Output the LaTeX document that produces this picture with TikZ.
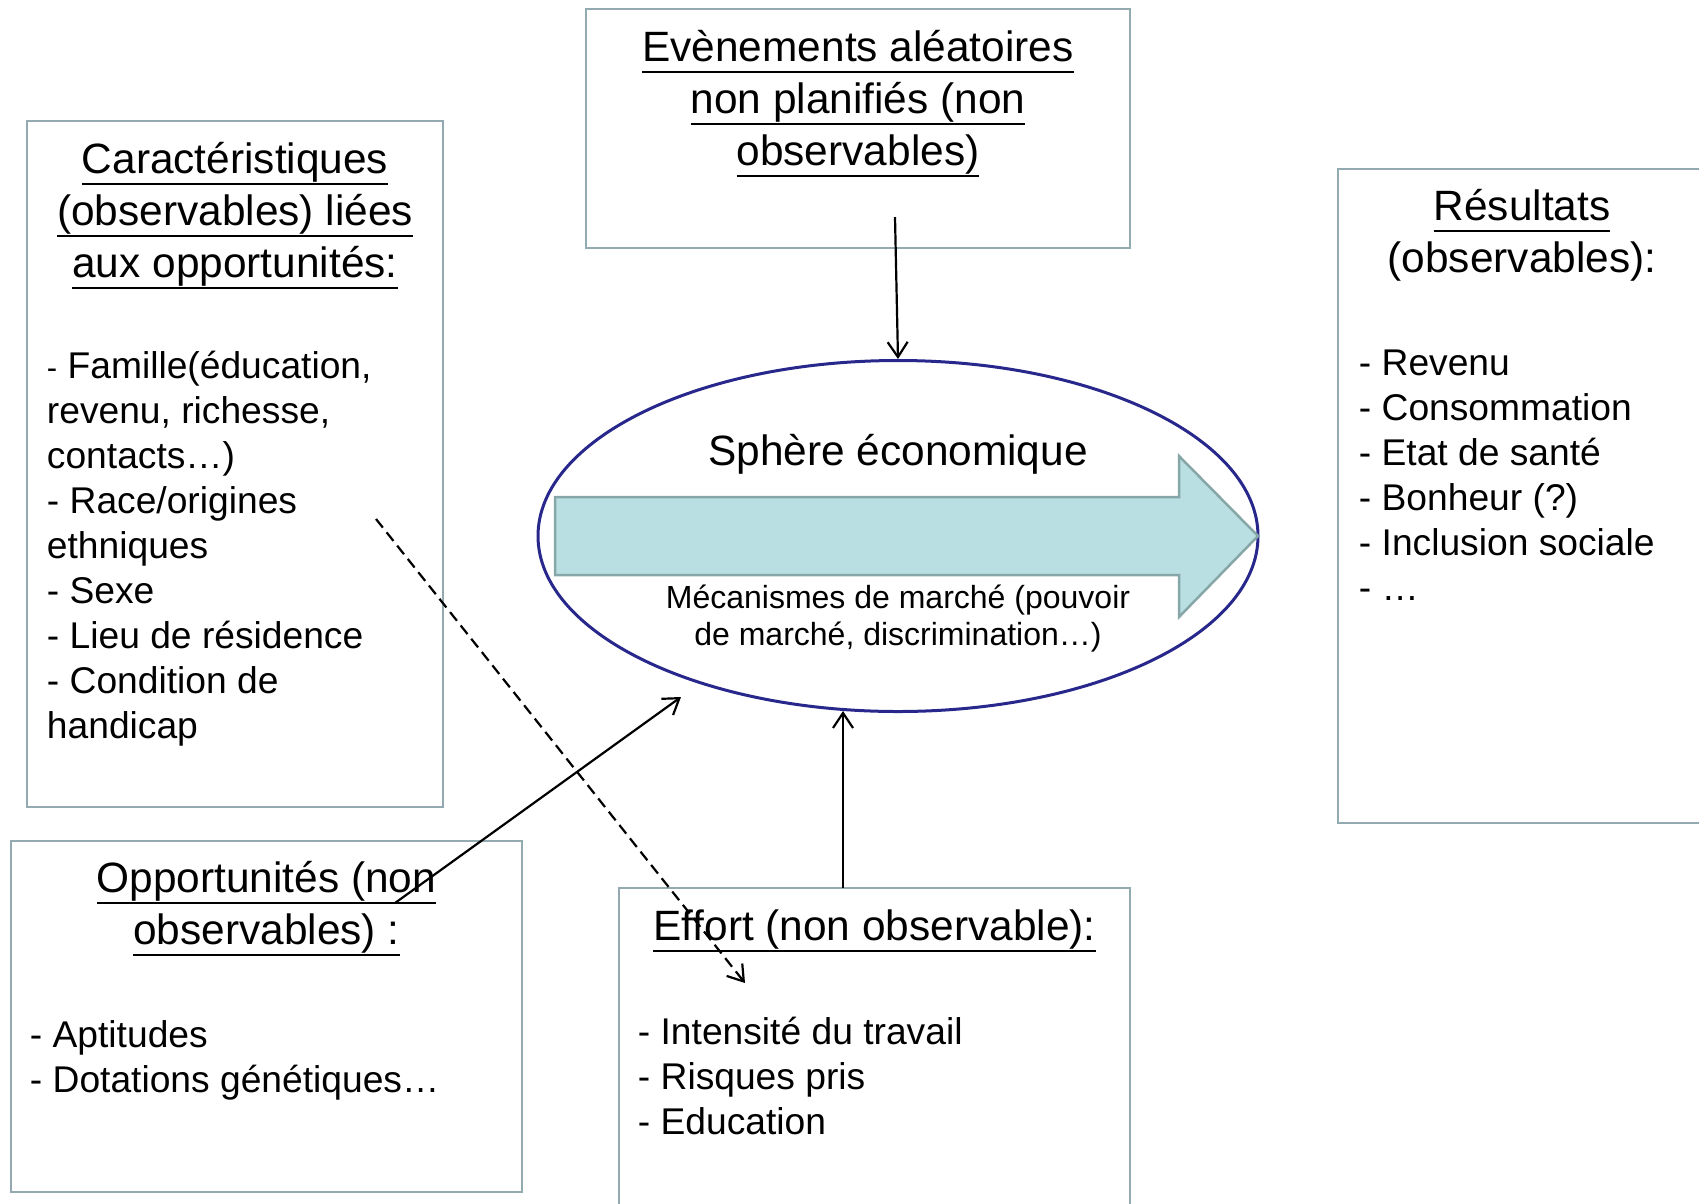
\documentclass[tikz,border=0pt]{standalone}
\usepackage{fontspec}
\setmainfont{Liberation Sans}
\usetikzlibrary{positioning,arrows.meta,shapes.geometric}
\definecolor{boxline}{RGB}{147,170,176}
\definecolor{spherenavy}{RGB}{40,40,140}
\definecolor{flowfill}{RGB}{185,223,227}
\definecolor{flowline}{RGB}{135,166,168}
\newlength{\ulinlen}
\newcommand{\ulin}[1]{\settowidth{\ulinlen}{#1}\rlap{\rule[-11.5pt]{\ulinlen}{2.6pt}}#1}
\newcommand{\topline}[1]{\rule{0pt}{#1}}
\tikzset{
    x=1pt,
    y=-1pt,
    block/.style = {
        draw=boxline,
        shape=rectangle,
        line width=2.5pt,
        inner sep=0pt
    },
    title/.style = {
        align=center,
        inner sep=0pt,
        font=\fontsize{42.4}{52}\selectfont
    },
    items/.style = {
        align=left,
        inner sep=0pt,
        font=\fontsize{37.2}{45}\selectfont
    },
    small/.style = {
        align=center,
        inner sep=0pt,
        font=\fontsize{32}{37}\selectfont
    },
    sphere/.style = {
        draw=spherenavy,
        shape=ellipse,
        line width=3pt,
        inner sep=0pt,
        minimum width=720pt,
        minimum height=351pt
    },
    flow/.style = {
        draw=flowline,
        fill=flowfill,
        line width=2.5pt,
        line join=miter
    },
    link/.style = {
        ->,
        line width=2.2pt
    },
    >={Straight Barb[length=15pt,width=20pt,line width=2.2pt]},
}

\begin{document}
\begin{tikzpicture}
    \useasboundingbox (0,0) rectangle (1699,1203);
    \clip (0,0) rectangle (1699,1203);

    % boxes
    \node[block, minimum width=416pt, minimum height=686pt] (caract) at (235,464) {};
    \node[block, minimum width=544pt, minimum height=239pt] (evt) at (858,128.5) {};
    \node[block, minimum width=368pt, minimum height=654pt] (res) at (1522,496) {};
    \node[block, minimum width=511pt, minimum height=351pt] (opp) at (266.5,1016.5) {};
    \node[block, minimum width=511pt, minimum height=327pt] (eff) at (874.5,1051.5) {};

    % sphere and market arrow
    \node[sphere] (eco) at (898,536) {};
    \draw[flow] (555,497) -- (1179,497) -- (1179,456) -- (1258,536)
        -- (1179,617) -- (1179,575) -- (555,575) -- cycle;
    \node[title, anchor=base] (eco-title) at ([yshift=71pt]eco.center) {Sphère économique};
    \node[small, below=42.5pt of eco.center] (eco-txt)
        {\topline{30pt}Mécanismes de marché (pouvoir\\de marché, discrimination…)};

    % titles
    \node[title, below=14pt of caract.north] (caract-title)
        {\topline{40pt}\ulin{Caractéristiques}\\\ulin{(observables) liées}\\\ulin{aux opportunités:}};
    \node[title, below=14pt of evt.north] (evt-title)
        {\topline{40pt}\ulin{Evènements aléatoires}\\\ulin{non planifiés (non}\\\ulin{observables)}};
    \node[title, below=13pt of res.north] (res-title)
        {\topline{40pt}\ulin{Résultats}\\(observables):};
    \node[title, below=13pt of opp.north] (opp-title)
        {\topline{40pt}\ulin{Opportunités (non}\\\ulin{observables) :}};
    \node[title, below=14pt of eff.north] (eff-title)
        {\topline{40pt}\ulin{Effort (non observable):}};

    % lists
    \node[items, below right=223pt and 21pt of caract.north west] (caract-list)
        {\topline{36pt}{\fontsize{31}{45}\selectfont -} Famille(éducation,\\revenu, richesse,\\contacts…)\\- Race/origines\\ethniques\\- Sexe\\- Lieu de résidence\\- Condition de\\handicap};
    \node[items, below right=172pt and 22pt of res.north west] (res-list)
        {\topline{36pt}- Revenu\\- Consommation\\- Etat de santé\\- Bonheur (?)\\- Inclusion sociale\\- …};
    \node[items, below right=172pt and 20pt of opp.north west] (opp-list)
        {\topline{36pt}- Aptitudes\\- Dotations génétiques…};
    \node[items, below right=122pt and 20pt of eff.north west] (eff-list)
        {\topline{36pt}- Intensité du travail\\- Risques pris\\- Education};

    % connectors
    \coordinate (evt-out) at (895,217);
    \coordinate (eff-out) at (843,888);
    \coordinate (eff-in) at (843,711);
    \coordinate (opp-out) at (395,903);
    \coordinate (opp-in) at (681,697);
    \coordinate (caract-out) at (376,519);
    \coordinate (caract-in) at (745,983);

    \draw[link] (evt-out) -- (eco.north);
    \draw[link] (eff-out) -- (eff-in);
    \draw[link] (opp-out) -- (opp-in);
    \draw[link, dash pattern=on 11pt off 6pt] (caract-out) -- (caract-in);
\end{tikzpicture}
\end{document}
